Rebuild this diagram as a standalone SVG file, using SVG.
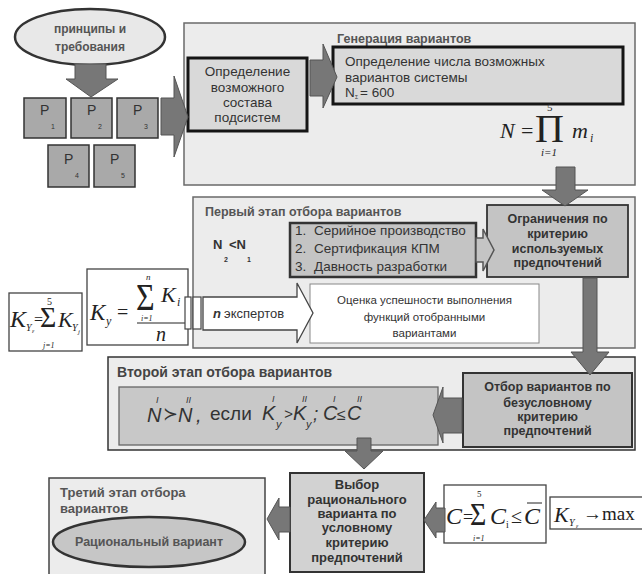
<svg xmlns="http://www.w3.org/2000/svg" width="642" height="574" viewBox="0 0 642 574">
<style>
.panel{fill:#ececec;stroke:#6a6a6a;stroke-width:1.5}
.dark{fill:#d9d9d9;stroke:#151515;stroke-width:3}
.gbox{fill:#c4c4c4;stroke:#333;stroke-width:1.8}
.pbox{fill:#a9a9a9;stroke:#333;stroke-width:1.5}
.wbox{fill:#fff;stroke:#444;stroke-width:1.3}
.arrow{fill:#777;stroke:#555;stroke-width:1}
.t{font-family:"Liberation Sans",Arial,sans-serif;fill:#333}
.b{font-weight:bold}
.ttl{font-family:"Liberation Sans",Arial,sans-serif;font-weight:bold;fill:#555}
.m{font-family:"Liberation Serif","DejaVu Serif",serif;font-style:italic;fill:#222}
.r{font-family:"Liberation Serif","DejaVu Serif",serif;fill:#222}
.fi{font-family:"Liberation Sans","DejaVu Sans",sans-serif;font-style:italic;fill:#333}
</style>
<rect width="642" height="574" fill="#fff"/>

<!-- panels -->
<g id="panel-generation">
<rect class="panel" x="184" y="23" width="451" height="162"/>
<text class="ttl" x="337" y="43" font-size="12.5">Генерация вариантов</text>
</g>
<g id="panel-stage1">
<rect class="panel" x="193" y="197" width="442" height="151"/>
<text class="ttl" x="205" y="216" font-size="12.5">Первый этап отбора вариантов</text>
<text class="t b" x="213" y="249" font-size="13">N</text>
<text class="t b" x="229" y="249" font-size="13">&lt;N</text>
<text class="t b" x="224" y="262" font-size="7">2</text>
<text class="t b" x="247" y="262" font-size="7">1</text>
</g>
<g id="panel-stage2">
<rect class="panel" x="108" y="357" width="527" height="93" style="stroke:#333"/>
<text class="ttl" x="117" y="377" font-size="14" style="fill:#444">Второй этап отбора вариантов</text>
</g>
<g id="panel-stage3">
<rect class="panel" x="49" y="478" width="216" height="104" style="stroke:#444"/>
<text class="ttl" x="60" y="497" font-size="13">Третий этап отбора</text>
<text class="ttl" x="60" y="513" font-size="13">вариантов</text>
</g>

<!-- nodes -->
<g id="principles">
<ellipse cx="90" cy="37" rx="75" ry="28" fill="#e8e8e8" stroke="#333" stroke-width="2.5"/>
<text class="ttl" x="90" y="33" font-size="12" text-anchor="middle">принципы и</text>
<text class="ttl" x="90" y="51" font-size="12" text-anchor="middle">требования</text>
</g>
<g id="p1"><rect class="pbox" x="24" y="98" width="42" height="40"/><text class="t" x="40" y="115" font-size="14">P</text><text class="t" x="51" y="129" font-size="7">1</text></g>
<g id="p2"><rect class="pbox" x="71" y="98" width="41" height="40"/><text class="t" x="87" y="115" font-size="14">P</text><text class="t" x="98" y="129" font-size="7">2</text></g>
<g id="p3"><rect class="pbox" x="117" y="98" width="41" height="40"/><text class="t" x="133" y="115" font-size="14">P</text><text class="t" x="144" y="129" font-size="7">3</text></g>
<g id="p4"><rect class="pbox" x="48" y="145" width="41" height="42"/><text class="t" x="64" y="164" font-size="14">P</text><text class="t" x="75" y="178" font-size="7">4</text></g>
<g id="p5"><rect class="pbox" x="94" y="145" width="41" height="42"/><text class="t" x="110" y="164" font-size="14">P</text><text class="t" x="121" y="178" font-size="7">5</text></g>

<g id="composition">
<rect class="dark" x="188" y="58" width="119" height="73"/>
<text class="t" font-size="13.5" text-anchor="middle"><tspan x="247.5" y="76">Определение</tspan><tspan x="247.5" y="92">возможного</tspan><tspan x="247.5" y="107">состава</tspan><tspan x="247.5" y="122">подсистем</tspan></text>
</g>
<g id="count">
<rect class="dark" x="333" y="47" width="290" height="57"/>
<text class="t" font-size="13.5"><tspan x="345" y="66">Определение числа возможных</tspan><tspan x="345" y="82">вариантов системы</tspan><tspan x="345" y="97">N</tspan><tspan x="355" y="99" font-size="5">Σ</tspan><tspan x="360" y="97">= 600</tspan></text>
</g>
<g id="formula-N">
<text class="m" x="500" y="138" font-size="22">N</text>
<text class="r" x="521" y="138" font-size="22">=</text>
<text class="r" x="535" y="142" font-size="40">Π</text>
<text class="r" x="547" y="111" font-size="11">5</text>
<text class="m" x="541" y="156" font-size="11">i=1</text>
<text class="m" x="572" y="138" font-size="22">m</text>
<text class="m" x="590" y="142" font-size="12">i</text>
</g>

<g id="criteria-list">
<rect x="290" y="223" width="186" height="54" fill="#c4c4c4" stroke="#333" stroke-width="2.5"/>
<text class="t" font-size="13.5"><tspan x="295" y="235">1.</tspan><tspan x="314" y="235">Серийное производство</tspan></text>
<text class="t" font-size="13.5"><tspan x="295" y="253">2.</tspan><tspan x="314" y="253">Сертификация КПМ</tspan></text>
<text class="t" font-size="13.5"><tspan x="295" y="271">3.</tspan><tspan x="314" y="271">Давность разработки</tspan></text>
</g>
<g id="restrictions">
<rect class="gbox" x="487" y="205" width="141" height="72"/>
<text class="t b" font-size="12.5" text-anchor="middle"><tspan x="557.5" y="223">Ограничения по</tspan><tspan x="557.5" y="238">критерию</tspan><tspan x="557.5" y="253">используемых</tspan><tspan x="557.5" y="267">предпочтений</tspan></text>
</g>
<g id="assessment">
<rect x="310" y="284" width="229" height="59" fill="#fff" stroke="#888" stroke-width="1"/>
<text class="t" font-size="11.5" text-anchor="middle"><tspan x="424.5" y="304">Оценка успешности выполнения</tspan><tspan x="424.5" y="321">функций отобранными</tspan><tspan x="424.5" y="337">вариантами</tspan></text>
</g>
<g id="formula-Ky">
<rect class="wbox" x="87" y="269" width="101" height="76"/>
<text class="m" x="90" y="320" font-size="23">K</text>
<text class="m" x="106" y="325" font-size="12">y</text>
<text class="r" x="117" y="319" font-size="20">=</text>
<text class="r" font-size="32" transform="translate(136,310) scale(1,1.2)">Σ</text>
<text class="m" x="146" y="280" font-size="9">n</text>
<text class="m" x="141" y="321" font-size="8">i=1</text>
<line x1="137" y1="323" x2="186" y2="323" stroke="#222" stroke-width="1"/>
<text class="m" x="161" y="302" font-size="22">K</text>
<text class="m" x="177" y="306" font-size="12">i</text>
<text class="m" x="156" y="341" font-size="20">n</text>
</g>
<g id="formula-Kye">
<rect class="wbox" x="9" y="293" width="73" height="58"/>
<text class="m" x="10" y="327" font-size="24">K</text>
<text class="m" x="26" y="331" font-size="10">Y</text>
<text class="m" x="32" y="333" font-size="6">ε</text>
<text class="r" x="34" y="325" font-size="16">=</text>
<text class="r" font-size="28" transform="translate(40,327) scale(1,1.05)">Σ</text>
<text class="r" x="47" y="305" font-size="10">5</text>
<text class="m" x="43" y="348" font-size="8">j=1</text>
<text class="m" x="58" y="327" font-size="22">K</text>
<text class="m" x="72" y="331" font-size="10">Y</text>
<text class="m" x="78" y="334" font-size="7">j</text>
</g>

<g id="pref-formula">
<rect x="119" y="387" width="319" height="58" fill="#c8c8c8" stroke="#666" stroke-width="1.3"/>
<text class="fi" x="147" y="422" font-size="20">N</text>
<text class="fi" x="156" y="403" font-size="9">I</text>
<text class="t" x="163" y="420" font-size="18">≻</text>
<text class="fi" x="178" y="422" font-size="20">N</text>
<text class="fi" x="186" y="403" font-size="9">II</text>
<text class="fi" x="196" y="422" font-size="20">,</text>
<text class="t" x="210" y="420" font-size="19">если</text>
<text class="fi" x="262" y="420" font-size="20">K</text>
<text class="fi" x="272" y="402" font-size="9">I</text>
<text class="fi" x="276" y="428" font-size="11">y</text>
<text class="fi" x="284" y="419" font-size="15">&gt;</text>
<text class="fi" x="293" y="420" font-size="20">K</text>
<text class="fi" x="302" y="402" font-size="9">II</text>
<text class="fi" x="306" y="428" font-size="11">y</text>
<text class="fi" x="313" y="420" font-size="19">;</text>
<text class="fi" x="323" y="420" font-size="20">C</text>
<text class="fi" x="333" y="402" font-size="9">I</text>
<text class="fi" x="337" y="420" font-size="16">≤</text>
<text class="fi" x="347" y="420" font-size="20">C</text>
<text class="fi" x="357" y="402" font-size="9">II</text>
</g>
<g id="unconditional">
<rect class="gbox" x="463" y="373" width="169" height="74" style="stroke-width:2"/>
<text class="t b" font-size="12.5" text-anchor="middle"><tspan x="547.5" y="391">Отбор вариантов по</tspan><tspan x="547.5" y="407">безусловному</tspan><tspan x="547.5" y="421">критерию</tspan><tspan x="547.5" y="435">предпочтений</tspan></text>
</g>
<g id="conditional">
<rect x="290" y="473" width="134" height="99" fill="#d2d2d2" stroke="#333" stroke-width="2"/>
<text class="t b" font-size="13" text-anchor="middle"><tspan x="357" y="489">Выбор</tspan><tspan x="357" y="504">рационального</tspan><tspan x="357" y="518">варианта по</tspan><tspan x="357" y="532">условному</tspan><tspan x="357" y="547">критерию</tspan><tspan x="357" y="562">предпочтений</tspan></text>
</g>
<g id="formula-C">
<rect class="wbox" x="444" y="485" width="102" height="58"/>
<text class="m" x="446" y="524" font-size="24">C</text>
<text class="r" x="463" y="523" font-size="18">=</text>
<text class="r" font-size="28" transform="translate(470,525) scale(1,1.1)">Σ</text>
<text class="r" x="477" y="497" font-size="9">5</text>
<text class="m" x="473" y="541" font-size="8">i=1</text>
<text class="m" x="490" y="524" font-size="24">C</text>
<text class="r" x="506" y="528" font-size="10">i</text>
<text class="r" x="511" y="523" font-size="20">≤</text>
<text class="m" x="524" y="524" font-size="24">C</text>
<line x1="527" y1="503" x2="542" y2="503" stroke="#222" stroke-width="1"/>
</g>
<g id="formula-max">
<rect class="wbox" x="550" y="497" width="95" height="32"/>
<text class="m" x="554" y="522" font-size="22">K</text>
<text class="m" x="569" y="526" font-size="10">Y</text>
<text class="m" x="576" y="528" font-size="6">ε</text>
<text class="r" x="583" y="520" font-size="19">→max</text>
</g>
<g id="rational">
<ellipse cx="149" cy="542" rx="96" ry="25" fill="#c6c6c6" stroke="#333" stroke-width="2.5"/>
<text class="ttl" x="149" y="546" font-size="12.5" text-anchor="middle">Рациональный вариант</text>
</g>

<!-- connectors -->
<g id="connectors">
<polygon class="arrow" points="75,64 106,64 106,79 118,79 91,97 66,79 75,79"/>
<polygon class="arrow" points="161,98 174,98 174,76 188,117 174,157 174,135 161,135"/>
<polygon class="arrow" points="310,60 323,60 323,44 337,77 323,108 323,96 310,96"/>
<polygon class="arrow" points="556,167 575,167 575,190 588,190 565,206 542,190 556,190"/>
<polygon points="476,238 483,238 483,229 494,250 483,271 483,262 476,262" fill="#c4c4c4" stroke="#555" stroke-width="1.5"/>
<polygon points="203,297 297,297 297,283 313,313 297,343 297,330 203,330" fill="#fff" stroke="#444" stroke-width="1.3"/>
<rect x="185" y="297" width="6" height="32" fill="#fff" stroke="#444" stroke-width="1.2"/>
<rect x="193" y="297" width="8" height="32" fill="#fff" stroke="#444" stroke-width="1.2"/>
<polygon class="arrow" points="583,278 597,278 597,352 609,352 590,375 571,352 583,352"/>
<polygon class="arrow" points="462,398 443,398 443,387 433,415 443,443 443,433 462,433"/>
<polygon class="arrow" points="357,438 371,438 371,451 383,451 364,469 345,451 357,451"/>
<polygon class="arrow" points="290,507 279,507 279,498 267,519 279,540 279,532 290,532"/>
<polygon class="arrow" points="445,508 436,508 436,502 424,520 436,538 436,532 445,532"/>
</g>
<text class="t b" x="213" y="318" font-size="13" font-style="italic">n</text>
<text class="t" x="224" y="318" font-size="13">экспертов</text>
</svg>
